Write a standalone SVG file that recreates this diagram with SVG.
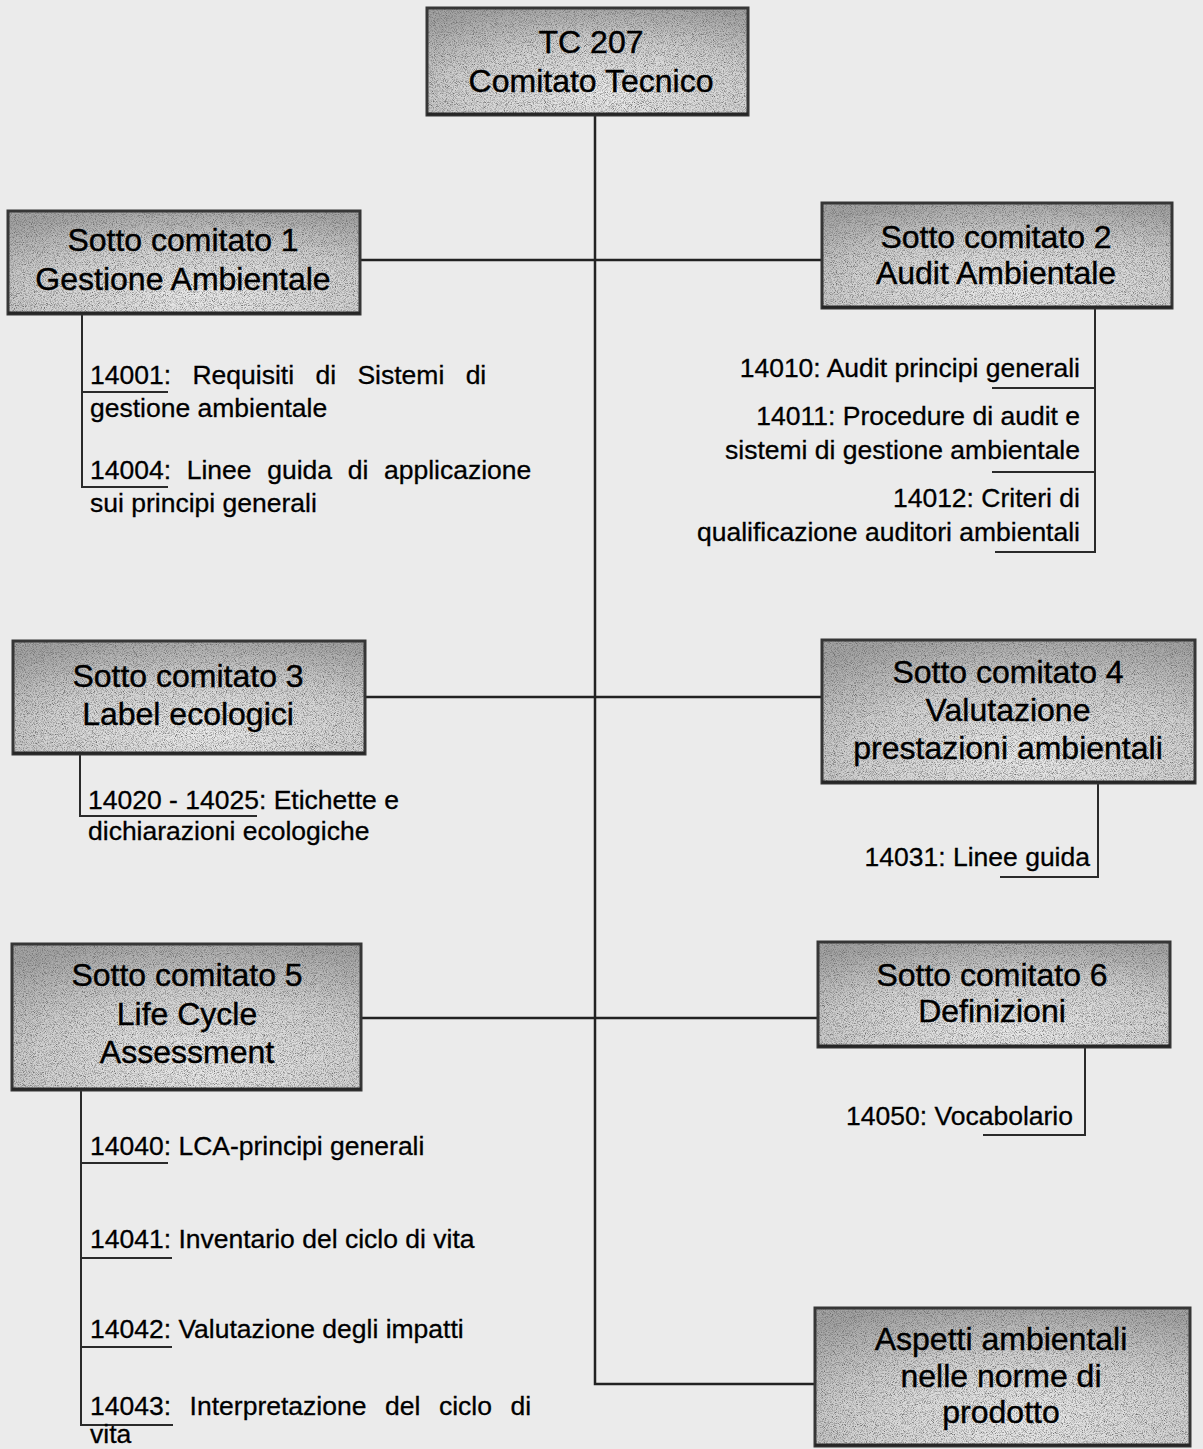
<svg xmlns="http://www.w3.org/2000/svg" width="1203" height="1449" viewBox="0 0 1203 1449">
  <defs>
    <style>
      .bg { fill: #ebebeb; }
      .box-fill { fill: url(#boxShade); filter: url(#grain); }
      .box-edge { fill: none; stroke: #363636; stroke-width: 3; }
      .box-foot { stroke: #262626; stroke-width: 3; }
      .title { font-family: "Liberation Sans", Arial, sans-serif; font-size: 32px; fill: #000; stroke: #000; stroke-width: 0.4; text-anchor: middle; }
      .item { font-family: "Liberation Sans", Arial, sans-serif; font-size: 26.5px; fill: #000; stroke: #000; stroke-width: 0.3; }
      .item-r { font-family: "Liberation Sans", Arial, sans-serif; font-size: 26.5px; fill: #000; stroke: #000; stroke-width: 0.3; text-anchor: end; }
      .wire { fill: none; stroke: #222; stroke-width: 2.5; }
      .tick { fill: none; stroke: #2a2a2a; stroke-width: 2; }
    </style>
    <!-- halftone-like shading of the committee boxes -->
    <radialGradient id="boxShade" cx="0.55" cy="0.8" r="0.85">
      <stop offset="0" stop-color="#ececec"/>
      <stop offset="0.55" stop-color="#d2d2d2"/>
      <stop offset="1" stop-color="#a4a4a4"/>
    </radialGradient>
    <filter id="grain" x="0" y="0" width="1" height="1">
      <feTurbulence type="fractalNoise" baseFrequency="1.1" numOctaves="2" seed="7" result="noise"/>
      <feColorMatrix in="noise" type="matrix" values="0 0 0 0 0.15  0 0 0 0 0.15  0 0 0 0 0.15  2.6 0 0 0 -1.1" result="specks"/>
      <feComposite in="specks" in2="SourceGraphic" operator="in" result="clipped"/>
      <feMerge>
        <feMergeNode in="SourceGraphic"/>
        <feMergeNode in="clipped"/>
      </feMerge>
    </filter>
  </defs>

  <rect class="bg" x="0" y="0" width="1203" height="1449"/>

  <!-- connectors: trunk, branches and item brackets -->
  <g id="connectors">
    <path class="wire" d="M595 115 V1384 H815"/>
    <path class="wire" d="M360 260 H822"/>
    <path class="wire" d="M365 697 H822"/>
    <path class="wire" d="M361 1018 H818"/>

    <!-- SC1 items -->
    <path class="tick" d="M82 313 V487 H168"/>
    <path class="tick" d="M82 392 H168"/>
    <!-- SC2 items -->
    <path class="tick" d="M1095 308 V552 H995"/>
    <path class="tick" d="M1095 388 H992"/>
    <path class="tick" d="M1095 472 H992"/>
    <!-- SC3 items -->
    <path class="tick" d="M80 755 V816 H257"/>
    <!-- SC4 items -->
    <path class="tick" d="M1098 783 V877 H1000"/>
    <!-- SC5 items -->
    <path class="tick" d="M81 1090 V1425 H173"/>
    <path class="tick" d="M81 1163 H168"/>
    <path class="tick" d="M81 1258 H172"/>
    <path class="tick" d="M81 1347 H172"/>
    <!-- SC6 items -->
    <path class="tick" d="M1085 1047 V1135 H983"/>
  </g>

  <g id="tc207">
    <rect class="box-fill" x="427" y="8" width="321" height="107"/>
    <rect class="box-edge" x="427" y="8" width="321" height="107"/>
    <line class="box-foot" x1="427" y1="114" x2="748" y2="114"/>
    <text class="title" x="591" y="53">TC 207</text>
    <text class="title" x="591" y="92">Comitato Tecnico</text>
  </g>

  <g id="sc1">
    <rect class="box-fill" x="8" y="211" width="352" height="103"/>
    <rect class="box-edge" x="8" y="211" width="352" height="103"/>
    <line class="box-foot" x1="8" y1="313" x2="360" y2="313"/>
    <text class="title" x="183" y="251">Sotto comitato 1</text>
    <text class="title" x="183" y="290">Gestione Ambientale</text>
  </g>
  <g id="sc1-items">
    <text class="item" x="90" y="384" word-spacing="14">14001: Requisiti di Sistemi di</text>
    <text class="item" x="90" y="417">gestione ambientale</text>
    <text class="item" x="90" y="479" word-spacing="8.3">14004: Linee guida di applicazione</text>
    <text class="item" x="90" y="512">sui principi generali</text>
  </g>

  <g id="sc2">
    <rect class="box-fill" x="822" y="203" width="350" height="105"/>
    <rect class="box-edge" x="822" y="203" width="350" height="105"/>
    <line class="box-foot" x1="822" y1="307" x2="1172" y2="307"/>
    <text class="title" x="996" y="248">Sotto comitato 2</text>
    <text class="title" x="996" y="284">Audit Ambientale</text>
  </g>
  <g id="sc2-items">
    <text class="item-r" x="1080" y="377">14010: Audit principi generali</text>
    <text class="item-r" x="1080" y="425">14011: Procedure di audit e</text>
    <text class="item-r" x="1080" y="459">sistemi di gestione ambientale</text>
    <text class="item-r" x="1080" y="507">14012: Criteri di</text>
    <text class="item-r" x="1080" y="541">qualificazione auditori ambientali</text>
  </g>

  <g id="sc3">
    <rect class="box-fill" x="13" y="641" width="352" height="113"/>
    <rect class="box-edge" x="13" y="641" width="352" height="113"/>
    <line class="box-foot" x1="13" y1="753" x2="365" y2="753"/>
    <text class="title" x="188" y="687">Sotto comitato 3</text>
    <text class="title" x="188" y="725">Label ecologici</text>
  </g>
  <g id="sc3-items">
    <text class="item" x="88" y="809">14020 - 14025: Etichette e</text>
    <text class="item" x="88" y="840">dichiarazioni ecologiche</text>
  </g>

  <g id="sc4">
    <rect class="box-fill" x="822" y="640" width="373" height="143"/>
    <rect class="box-edge" x="822" y="640" width="373" height="143"/>
    <line class="box-foot" x1="822" y1="782" x2="1195" y2="782"/>
    <text class="title" x="1008" y="683">Sotto comitato 4</text>
    <text class="title" x="1008" y="721">Valutazione</text>
    <text class="title" x="1008" y="759">prestazioni ambientali</text>
  </g>
  <g id="sc4-items">
    <text class="item-r" x="1090" y="866">14031: Linee guida</text>
  </g>

  <g id="sc5">
    <rect class="box-fill" x="12" y="944" width="349" height="146"/>
    <rect class="box-edge" x="12" y="944" width="349" height="146"/>
    <line class="box-foot" x1="12" y1="1089" x2="361" y2="1089"/>
    <text class="title" x="187" y="986">Sotto comitato 5</text>
    <text class="title" x="187" y="1025">Life Cycle</text>
    <text class="title" x="187" y="1063">Assessment</text>
  </g>
  <g id="sc5-items">
    <text class="item" x="90" y="1155">14040: LCA-principi generali</text>
    <text class="item" x="90" y="1248">14041: Inventario del ciclo di vita</text>
    <text class="item" x="90" y="1338">14042: Valutazione degli impatti</text>
    <text class="item" x="90" y="1415" word-spacing="11.2">14043: Interpretazione del ciclo di</text>
    <text class="item" x="90" y="1443">vita</text>
  </g>

  <g id="sc6">
    <rect class="box-fill" x="818" y="942" width="352" height="105"/>
    <rect class="box-edge" x="818" y="942" width="352" height="105"/>
    <line class="box-foot" x1="818" y1="1046" x2="1170" y2="1046"/>
    <text class="title" x="992" y="986">Sotto comitato 6</text>
    <text class="title" x="992" y="1022">Definizioni</text>
  </g>
  <g id="sc6-items">
    <text class="item-r" x="1073" y="1125">14050: Vocabolario</text>
  </g>

  <g id="product-standards">
    <rect class="box-fill" x="815" y="1308" width="375" height="138"/>
    <rect class="box-edge" x="815" y="1308" width="375" height="138"/>
    <line class="box-foot" x1="815" y1="1445" x2="1190" y2="1445"/>
    <text class="title" x="1001" y="1350">Aspetti ambientali</text>
    <text class="title" x="1001" y="1387">nelle norme di</text>
    <text class="title" x="1001" y="1423">prodotto</text>
  </g>
</svg>
